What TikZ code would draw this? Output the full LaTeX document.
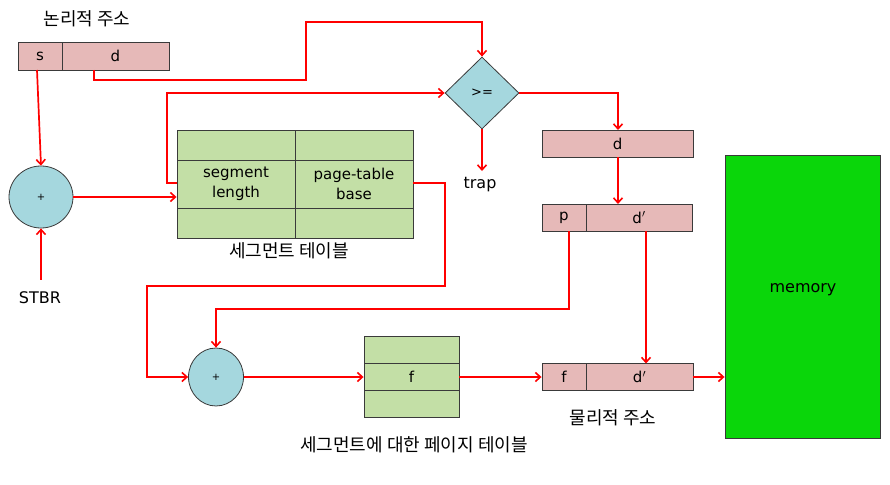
\documentclass[tikz,border=0pt]{standalone}
\usepackage{fontspec}
\setmainfont{DejaVu Sans}
\newfontfamily\kr{Noto Sans CJK KR}
\usetikzlibrary{arrows.meta,shapes.geometric}
\definecolor{pinkc}{HTML}{E6B9B8}
\definecolor{greenc}{HTML}{C3DFA6}
\definecolor{bluec}{HTML}{A5D7DE}
\definecolor{memc}{HTML}{0AD60A}
\definecolor{edgec}{HTML}{3A3A3A}
\tikzset{
  cell/.style={draw=edgec, line width=0.9pt, inner sep=0pt, anchor=center, font=\fontsize{15}{20}\selectfont, align=center},
  pinkcell/.style={cell, fill=pinkc},
  greencell/.style={cell, fill=greenc},
  adder/.style={ellipse, draw=edgec, line width=0.8pt, fill=bluec, inner sep=0pt, font=\fontsize{10}{11}\selectfont},
  conn/.style={draw=red, line width=1.7pt, -{Straight Barb[length=5pt,width=9pt,line width=1.6pt]}},
  lbl/.style={font=\fontsize{16}{18}\selectfont, inner sep=0pt},
  krlbl/.style={font=\kr\fontsize{18}{20}\selectfont, inner sep=0pt}
}
\begin{document}
\begin{tikzpicture}[x=1pt,y=-1pt]
\useasboundingbox (0,0) rectangle (890,484);
% logical address
\node[krlbl] (lalbl) at (87,19) {논리적 주소};
\node[pinkcell, minimum width=44pt, minimum height=28pt] (s) at (40,56) {s};
\node[pinkcell, minimum width=107pt, minimum height=28pt] (d) at (115.5,56) {d};
% adder 1
\node[adder, minimum width=64pt, minimum height=62pt] (add1) at (41,197) {+};
\node[lbl] (stbr) at (40,298) {STBR};
% segment table
\node[greencell, minimum width=118pt, minimum height=30pt] (st1l) at (236,145) {};
\node[greencell, minimum width=118pt, minimum height=30pt] (st1r) at (354,145) {};
\node[greencell, minimum width=118pt, minimum height=48pt] (st2l) at (236,184) {segment\\length};
\node[greencell, minimum width=118pt, minimum height=48pt] (st2r) at (354,184) {page-table\\base};
\node[greencell, minimum width=118pt, minimum height=30pt] (st3l) at (236,223) {};
\node[greencell, minimum width=118pt, minimum height=30pt] (st3r) at (354,223) {};
\node[krlbl] (stlbl) at (289,251) {세그먼트 테이블};
% comparator
\node[diamond, draw=edgec, line width=0.8pt, fill=bluec, minimum width=74pt, minimum height=72pt, inner sep=0pt, font=\fontsize{13}{15}\selectfont] (cmp) at (482,93) {>=};
\node[lbl] (trap) at (480,185) {trap};
% d box
\node[pinkcell, minimum width=151pt, minimum height=27pt] (dbox) at (617.5,143.5) {d};
\node[pinkcell, minimum width=44pt, minimum height=27pt] (p) at (564,217.5) {p};
\node[pinkcell, minimum width=106pt, minimum height=27pt] (dp) at (639,217.5) {d$'$};
% adder 2
\node[adder, minimum width=55pt, minimum height=58pt] (add2) at (216,377) {+};
% page table for segment
\node[greencell, minimum width=95pt, minimum height=27pt] (pt1) at (411.5,350) {};
\node[greencell, minimum width=95pt, minimum height=27pt] (pt2) at (411.5,377) {f};
\node[greencell, minimum width=95pt, minimum height=27pt] (pt3) at (411.5,404) {};
\node[krlbl] (ptlbl) at (414,445) {세그먼트에 대한 페이지 테이블};
% physical address
\node[pinkcell, minimum width=44pt, minimum height=27pt] (f) at (564,377) {f};
\node[pinkcell, minimum width=107pt, minimum height=27pt] (fd) at (639.5,377) {d$'$};
\node[krlbl] (palbl) at (613,418) {물리적 주소};
% memory
\node[cell, fill=memc, minimum width=155pt, minimum height=283pt] (mem) at (802.5,296.5) {};
\node[lbl] (memlbl) at (803,290) {memory};
% connectors
\coordinate (sbot) at (37,70);
\draw[conn] (sbot) -- (add1.north);
\draw[conn] (stbr.north) ++(1,-12) -- (add1.south);
\draw[conn] (add1.east) -- (add1.east -| st2l.west);
\coordinate (dbot) at (94,70);
\draw[conn] (dbot) -- (94,80) -- (306,80) -- (306,22) -- (482,22) -- (cmp.north);
\coordinate (stl) at (177,183);
\draw[conn] (stl) -- (167,183) -- (167,93) -- (cmp.west);
\draw[conn] (cmp.east) -- (618,93) -- (618,130);
\draw[conn] (cmp.south) -- (482,171);
\draw[conn] (dbox.south -| 618,0) -- (618,204);
\coordinate (ptb) at (413,183);
\draw[conn] (ptb) -- (445,183) -- (445,286) -- (147,286) -- (147,377) -- (add2.west);
\coordinate (pbot) at (569,231);
\draw[conn] (pbot) -- (569,309) -- (216,309) -- (add2.north);
\coordinate (dpbot) at (646,231);
\draw[conn] (dpbot) -- (646,363.5);
\draw[conn] (add2.east) -- (add2.east -| pt2.west);
\draw[conn] (pt2.east) -- (pt2.east -| f.west);
\draw[conn] (fd.east) -- (fd.east -| mem.west);
\end{tikzpicture}
\end{document}
